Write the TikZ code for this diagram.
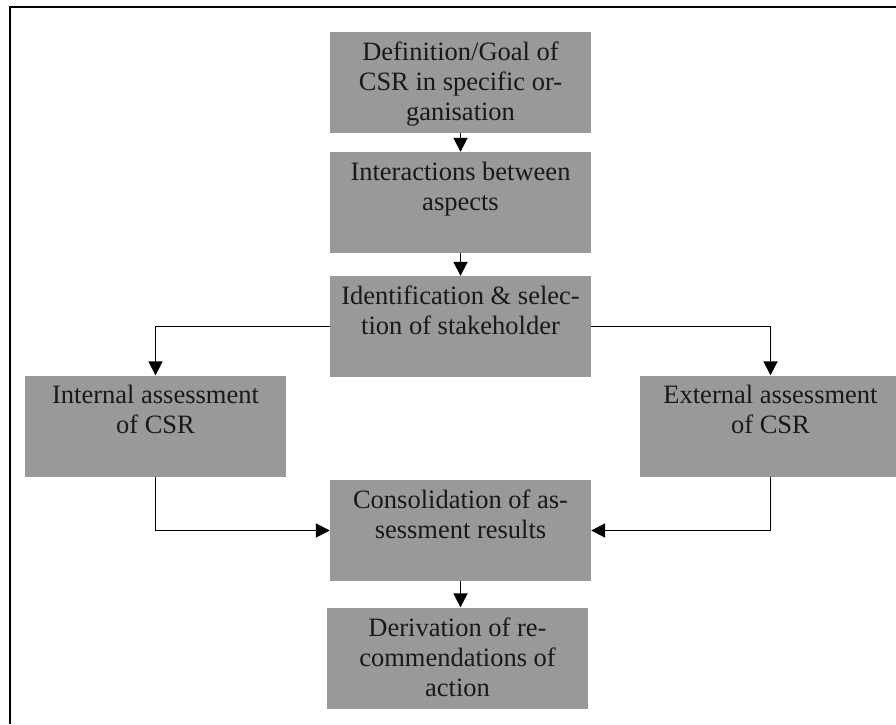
\documentclass[tikz,border=0pt]{standalone}
\usepackage{fontspec}
\setmainfont{Liberation Serif}
\usetikzlibrary{arrows.meta}

\definecolor{boxgray}{RGB}{153,153,153}

% box text sits at the top of each grey box
\newcommand{\boxlines}[1]{\parbox[c][101pt][t]{259pt}{\centering\vspace*{10pt}#1}}

\tikzset{
  stepbox/.style={fill=boxgray, inner sep=0pt, minimum width=261pt, minimum height=101pt,
    font=\fontsize{26.5}{30}\selectfont, text=black!90},
  flow/.style={line width=1.8pt, -{Triangle[length=14pt,width=14pt]}},
  frameline/.style={line width=2.6pt}
}

\begin{document}
\begin{tikzpicture}[x=1pt,y=-1pt]
  \useasboundingbox (0,0) rectangle (896,724);

  % page frame (top and left edges)
  \draw[frameline] (10,724) -- (10,7) -- (896,7);

  \node[stepbox] (def)   at (460.5,82.5) {\boxlines{Definition/Goal of\\CSR in specific or-\\ganisation}};
  \node[stepbox] (inter) at (460.5,202.5) {\boxlines{Interactions between\\aspects}};
  \node[stepbox] (ident) at (460.5,326.5) {\boxlines{Identification \& selec-\\tion of stakeholder}};
  \node[stepbox] (intas) at (155.5,426) {\boxlines{Internal assessment\\of CSR}};
  \node[stepbox] (extas) at (770.5,426) {\boxlines{External assessment\\of CSR}};
  \node[stepbox] (cons)  at (460.5,530.5) {\boxlines{Consolidation of as-\\sessment results}};
  \node[stepbox] (deriv) at (457.5,658) {\boxlines{Derivation of re-\\commendations of\\action}};

  \draw[flow] (def.south) -- (inter.north);
  \draw[flow] (inter.south) -- (ident.north);
  \draw[flow] (ident.west) -| (intas.north);
  \draw[flow] (ident.east) -| (extas.north);
  \draw[flow] (intas.south) |- (cons.west);
  \draw[flow] (extas.south) |- (cons.east);
  \draw[flow] (cons.south) -- (cons.south |- deriv.north);
\end{tikzpicture}
\end{document}
